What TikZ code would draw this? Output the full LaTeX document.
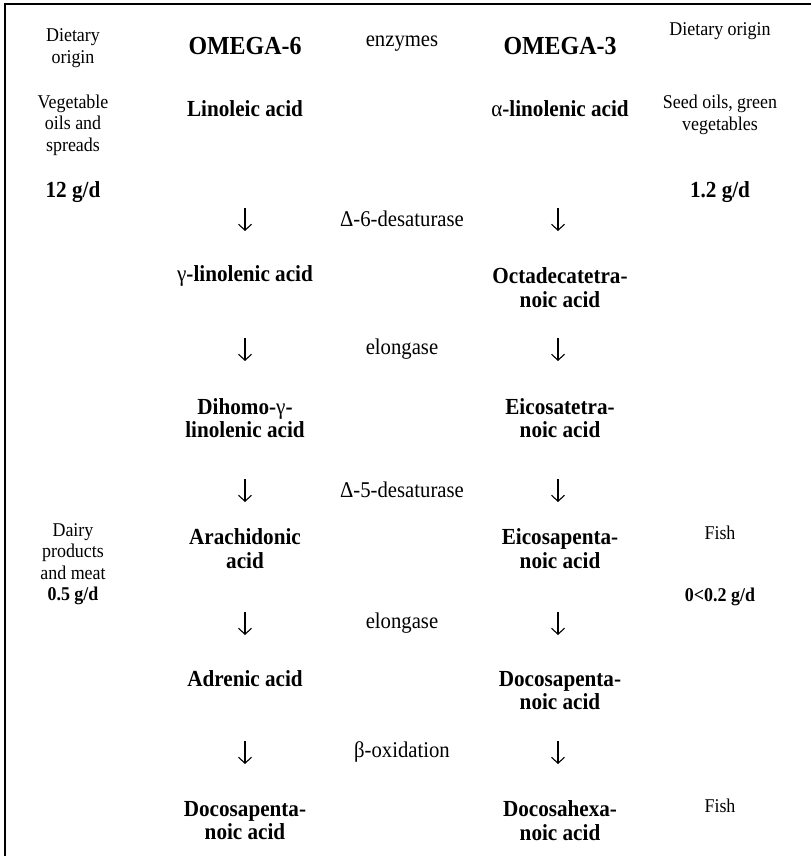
\documentclass[tikz,border=0pt]{standalone}
\usepackage{fontspec}
\setmainfont[FakeStretch=0.92]{Liberation Serif}
\usetikzlibrary{arrows.meta}
\begin{document}
\begin{tikzpicture}[x=1pt,y=-1pt,
  every node/.style={inner sep=0pt,align=center},
  head/.style={font=\bfseries\fontsize{26}{28}\selectfont},
  acid/.style={font=\bfseries\fontsize{23}{23.5}\selectfont},
  enz/.style={font=\fontsize{22.5}{23}\selectfont},
  side/.style={font=\fontsize{19.5}{21.5}\selectfont},
  amt/.style={font=\bfseries\fontsize{23}{23}\selectfont},
  amts/.style={font=\bfseries\fontsize{19.5}{21.5}\selectfont},
  flow/.style={-{Straight Barb[length=6pt,width=13pt,line width=1.1pt]},line width=1.1pt},
  frame/.style={line width=1.6pt}]
\useasboundingbox (0,0) rectangle (811,856);
% frame
\coordinate (fbl) at (5,856);
\coordinate (ftl) at (5,4);
\coordinate (ftr) at (811,4);
\draw[frame] (fbl) -- (ftl) -- (ftr);
% header
\node[side] (dol) at (73,48) {Dietary\\origin};
\node[head] (o6) at (245,46) {OMEGA-6};
\node[enz] (enz) at (402,44) {enzymes};
\node[head] (o3) at (560,46) {OMEGA-3};
\node[side] (dor) at (720,31) {Dietary origin};
% row 1
\node[side] (veg) at (73,125) {Vegetable\\oils and\\spreads};
\node[acid] (la) at (245,109) {Linoleic acid};
\node[acid] (ala) at (560,109) {{\mdseries α}-linolenic acid};
\node[side] (seed) at (720,115) {Seed oils, green\\vegetables};
\node[amt] (q6) at (73,192) {12 g/d};
\node[amt] (q3) at (720,192) {1.2 g/d};
% step 1
\node[enz] (e1) at (402,219) {Δ-6-desaturase};
\coordinate (l1t) at (245,208); \coordinate (l1b) at (245,231);
\coordinate (r1t) at (558,208); \coordinate (r1b) at (558,231);
% row 2
\node[acid] (gla) at (245,276) {{\mdseries γ}-linolenic acid};
\node[acid] (oda) at (560,287.5) {Octadecatetra-\\noic acid};
% step 2
\node[enz] (e2) at (402,349) {elongase};
\coordinate (l2t) at (245,338); \coordinate (l2b) at (245,361);
\coordinate (r2t) at (558,338); \coordinate (r2b) at (558,361);
% row 3
\node[acid] (dgla) at (245,418) {Dihomo-{\mdseries γ}-\\linolenic acid};
\node[acid] (eta) at (560,418) {Eicosatetra-\\noic acid};
% step 3
\node[enz] (e3) at (402,490) {Δ-5-desaturase};
\coordinate (l3t) at (245,479); \coordinate (l3b) at (245,502);
\coordinate (r3t) at (558,479); \coordinate (r3b) at (558,502);
% row 4
\node[side] (dairy) at (73,564) {Dairy\\products\\and meat\\\textbf{0.5 g/d}};
\node[acid] (aa) at (245,548.5) {Arachidonic\\acid};
\node[acid] (epa) at (560,548.5) {Eicosapenta-\\noic acid};
\node[side] (fish1) at (720,533) {Fish};
\node[amts] (q4) at (720,597) {0<0.2 g/d};
% step 4
\node[enz] (e4) at (402,623) {elongase};
\coordinate (l4t) at (245,612); \coordinate (l4b) at (245,635);
\coordinate (r4t) at (558,612); \coordinate (r4b) at (558,635);
% row 5
\node[acid] (adr) at (245,679) {Adrenic acid};
\node[acid] (dpa3) at (560,690.5) {Docosapenta-\\noic acid};
% step 5
\node[enz] (e5) at (402,752) {β-oxidation};
\coordinate (l5t) at (245,741); \coordinate (l5b) at (245,764);
\coordinate (r5t) at (558,741); \coordinate (r5b) at (558,764);
% row 6
\node[acid] (dpa6) at (245,820.5) {Docosapenta-\\noic acid};
\node[acid] (dha) at (560,820.5) {Docosahexa-\\noic acid};
\node[side] (fish2) at (720,806) {Fish};
% arrows
\foreach \s in {l,r}{
  \foreach \i in {1,...,5}{
    \draw[flow] (\s\i t) -- (\s\i b);
  }
}
\end{tikzpicture}
\end{document}
